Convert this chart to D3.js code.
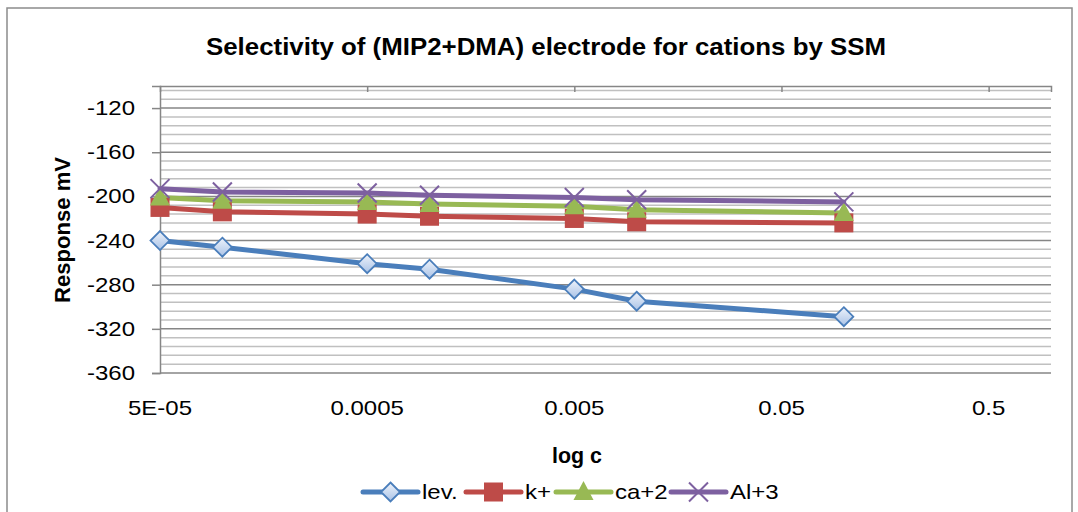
<!DOCTYPE html>
<html>
<head>
<meta charset="utf-8">
<script src="https://cdn.jsdelivr.net/npm/d3@7"></script>
<style>
  body { margin: 0; background: #fff; }
  svg { display: block; font-family: "Liberation Sans", Arial, sans-serif; }
</style>
</head>
<body>
<div id="container"></div>
<script>
const width = 1078, height = 512;

// concentrations (mol/L)
const conc = [5e-5, 1e-4, 5e-4, 1e-3, 5e-3, 1e-2, 1e-1];
const levValues = [-240, -246, -261, -266, -284, -295, -309];
const kValues = [-210, -214, -216, -218, -220, -223, -224];
const caValues = [-201, -204, -205, -207, -209, -212, -215];
const alValues = [-193, -196, -197, -199, -201, -203, -205];
const seriesNames = ['lev.', 'k+', 'ca+2', 'Al+3'];
const xTicks = [5e-5, 5e-4, 5e-3, 5e-2, 5e-1];
const xTickLabels = ['5E-05', '0.0005', '0.005', '0.05', '0.5'];
const yMajor = [-360, -320, -280, -240, -200, -160, -120];

const series = [
    {name: seriesNames[0], values: levValues, color: '#4a7ebb', marker: 'diamond'},
    {name: seriesNames[1], values: kValues, color: '#be4b48', marker: 'square'},
    {name: seriesNames[2], values: caValues, color: '#98b954', marker: 'triangle'},
    {name: seriesNames[3], values: alValues, color: '#7d60a0', marker: 'cross'}
];

const margin = {left: 160, right: 27, top: 86, bottom: 139};
const stretch = 1.2; // text in the picture is a bit wide

const svg = d3.select('#container')
    .append('svg')
    .attr('width', width)
    .attr('height', height);

const defs = svg.append('defs');
const grad = defs.append('linearGradient')
    .attr('id', 'diamondFill')
    .attr('x1', 0).attr('y1', 0).attr('x2', 0).attr('y2', 1);
grad.append('stop').attr('offset', '0%').attr('stop-color', '#eef3fb');
grad.append('stop').attr('offset', '100%').attr('stop-color', '#a9c2e6');

// outer chart frame
svg.append('rect')
    .attr('x', 7).attr('y', 8)
    .attr('width', 1065).attr('height', 520)
    .attr('fill', '#fff')
    .attr('stroke', '#8c8c8c')
    .attr('stroke-width', 1.5);

// axis runs to 1, labels stop at 0.5
const x = d3.scaleLog()
    .domain([5e-5, 1])
    .range([margin.left, width - margin.right]);

const y = d3.scaleLinear()
    .domain([-360, -100])
    .range([height - margin.bottom, margin.top]);

// minor gridlines every 8
const minor = d3.range(-360, -99, 8).filter(v => (v + 360) % 40 !== 0);
svg.append('g')
    .selectAll('line')
    .data(minor)
    .enter()
    .append('line')
    .attr('x1', margin.left).attr('x2', width - margin.right)
    .attr('y1', d => y(d)).attr('y2', d => y(d))
    .attr('stroke', '#c0c0c0')
    .attr('stroke-width', 1.5);

// y axis (labels drawn separately below)
const yAxis = d3.axisLeft(y)
    .tickValues(yMajor)
    .tickFormat('')
    .tickSize(8);

const yg = svg.append('g')
    .attr('transform', `translate(${margin.left},0)`)
    .call(yAxis);
yg.select('.domain').attr('stroke', '#868686').attr('stroke-width', 1.5);
yg.selectAll('.tick line').attr('stroke', '#868686').attr('stroke-width', 1.5);

svg.append('g')
    .selectAll('text')
    .data(yMajor)
    .enter()
    .append('text')
    .attr('transform', d => `translate(135,${y(d) + 7}) scale(${stretch},1)`)
    .attr('text-anchor', 'end')
    .attr('font-size', 20)
    .text(d => String(d));

// major gridlines
svg.append('g')
    .selectAll('line')
    .data(yMajor)
    .enter()
    .append('line')
    .attr('x1', margin.left).attr('x2', width - margin.right)
    .attr('y1', d => y(d)).attr('y2', d => y(d))
    .attr('stroke', '#868686')
    .attr('stroke-width', 1.5);

// x axis line sits at the top (y = -100), labels at the bottom
const xAxis = d3.axisBottom(x)
    .tickValues(xTicks.slice(1))
    .tickSize(6)
    .tickFormat('');
const xg = svg.append('g')
    .attr('transform', `translate(0,${y(-100)})`)
    .call(xAxis);
xg.select('.domain').attr('stroke', '#868686').attr('stroke-width', 1.5);
xg.selectAll('.tick line').attr('stroke', '#868686').attr('stroke-width', 1.5);

svg.append('g')
    .selectAll('text')
    .data(xTicks)
    .enter()
    .append('text')
    .attr('transform', d => `translate(${x(d)},415) scale(${stretch},1)`)
    .attr('text-anchor', 'middle')
    .attr('font-size', 20)
    .text((d, i) => xTickLabels[i]);

// lines
const line = d3.line()
    .x((d, i) => x(conc[i]))
    .y(d => y(d));

svg.append('g')
    .selectAll('path')
    .data(series)
    .enter()
    .append('path')
    .attr('d', d => line(d.values))
    .attr('fill', 'none')
    .attr('stroke', d => d.color)
    .attr('stroke-width', 5)
    .attr('stroke-linejoin', 'round')
    .attr('stroke-linecap', 'round');

function drawMarker(g, type, color, cx, cy) {
    if (type === 'diamond') {
        g.append('path')
            .attr('d', `M${cx},${cy - 9.5}L${cx + 9.5},${cy}L${cx},${cy + 9.5}L${cx - 9.5},${cy}Z`)
            .attr('fill', 'url(#diamondFill)')
            .attr('stroke', color)
            .attr('stroke-width', 1.8);
    } else if (type === 'square') {
        g.append('rect')
            .attr('x', cx - 9.5).attr('y', cy - 9.5)
            .attr('width', 19).attr('height', 19)
            .attr('fill', color);
    } else if (type === 'triangle') {
        g.append('path')
            .attr('d', `M${cx},${cy - 11}L${cx + 10},${cy + 8}L${cx - 10},${cy + 8}Z`)
            .attr('fill', color);
    } else {
        g.append('path')
            .attr('d', `M${cx - 9.5},${cy - 9.5}L${cx + 9.5},${cy + 9.5}M${cx + 9.5},${cy - 9.5}L${cx - 9.5},${cy + 9.5}`)
            .attr('stroke', color)
            .attr('stroke-width', 2);
    }
}

const markerG = svg.append('g');
series.forEach(s => {
    s.values.forEach((v, i) => drawMarker(markerG, s.marker, s.color, x(conc[i]), y(v)));
});

// titles
svg.append('text')
    .attr('x', 546).attr('y', 55)
    .attr('text-anchor', 'middle')
    .attr('font-size', 24)
    .attr('font-weight', 'bold')
    .attr('textLength', 680)
    .attr('lengthAdjust', 'spacingAndGlyphs')
    .text('Selectivity of (MIP2+DMA) electrode for cations by SSM');

svg.append('text')
    .attr('x', 577).attr('y', 463)
    .attr('text-anchor', 'middle')
    .attr('font-size', 22)
    .attr('font-weight', 'bold')
    .attr('textLength', 50)
    .attr('lengthAdjust', 'spacingAndGlyphs')
    .text('log c');

svg.append('text')
    .attr('transform', 'translate(70,230) rotate(-90)')
    .attr('text-anchor', 'middle')
    .attr('font-size', 22)
    .attr('font-weight', 'bold')
    .attr('textLength', 146)
    .attr('lengthAdjust', 'spacingAndGlyphs')
    .text('Response mV');

// legend
const legendX = [363, 466, 556, 671];
const legend = svg.append('g');
series.forEach((s, i) => {
    const lx = legendX[i], ly = 492;
    legend.append('line')
        .attr('x1', lx).attr('x2', lx + 55)
        .attr('y1', ly).attr('y2', ly)
        .attr('stroke', s.color)
        .attr('stroke-width', 5)
        .attr('stroke-linecap', 'round');
    drawMarker(legend, s.marker, s.color, lx + 27.5, ly);
    legend.append('text')
        .attr('transform', `translate(${lx + 59},${ly + 7}) scale(${stretch},1)`)
        .attr('font-size', 20)
        .text(s.name);
});
</script>
</body>
</html>
